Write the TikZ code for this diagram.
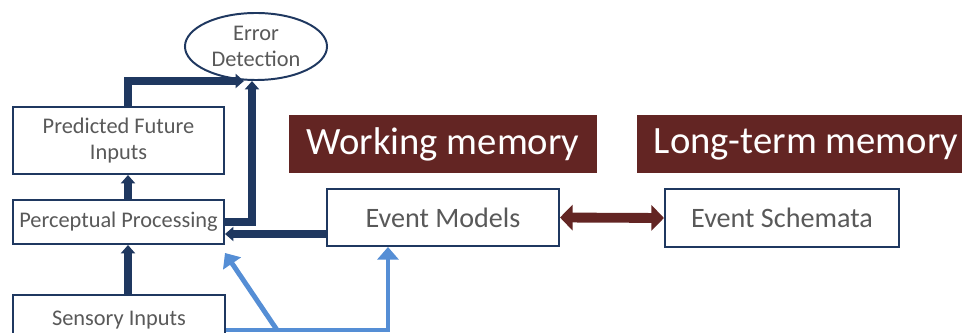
\documentclass[tikz,border=0pt]{standalone}
\usepackage{fontspec}
\setmainfont{Carlito}
\usetikzlibrary{arrows.meta}
\usetikzlibrary{shapes}

\definecolor{sotetkek}{RGB}{31,56,96}
\definecolor{bordo}{RGB}{99,37,35}
\definecolor{vilagoskek}{RGB}{85,142,213}
\definecolor{szurke}{RGB}{89,89,89}

\begin{document}
\begin{tikzpicture}[x=0.025cm,y=-0.025cm,
doboz/.style={rectangle,draw=sotetkek,line width=1.4pt,fill=white,text=szurke,
  font=\fontsize{15.9}{19}\selectfont,align=center,inner sep=0pt},
nagydoboz/.style={doboz,font=\fontsize{20}{24}\selectfont},
cimke/.style={rectangle,fill=bordo,text=white,font=\fontsize{27.5}{30}\selectfont,inner sep=0pt}]

\useasboundingbox (0,0) rectangle (962,333);
\clip (0,0) rectangle (962,333);

\coordinate (spine) at (128,0);
\coordinate (split) at (277,330);

\node[doboz,ellipse,minimum width=3.55cm,minimum height=1.675cm](error) at (256,46.5){Error\\Detection};
\node[doboz,minimum width=5.275cm,minimum height=1.675cm](predicted) at (118.5,140.5){Predicted Future\\Inputs};
\node[doboz,minimum width=5.275cm,minimum height=1.1cm](perceptual) at (118.5,222){Perceptual Processing};
\node[doboz,minimum width=5.3cm,minimum height=1.25cm](sensory) at (119,320){Sensory Inputs};

\node[cimke,minimum width=7.7cm,minimum height=1.45cm](wm-label) at (443,144){Working memory};
\node[cimke,minimum width=8.425cm,minimum height=1.45cm](ltm-label) at (806,144){Long-term memory};

\node[nagydoboz,minimum width=5.8cm,minimum height=1.425cm](event-models) at (443,217.5){Event Models};
\node[nagydoboz,minimum width=5.85cm,minimum height=1.45cm](event-schemata) at (782,218){Event Schemata};

\begin{scope}[->, >={Triangle[length=6pt,width=10pt]}, line width=5pt, draw=sotetkek]
\draw (sensory.north -| spine)--(perceptual.south -| spine);
\draw (perceptual.north -| spine)--(predicted.south -| spine);
\draw (predicted.north -| spine)|-([xshift=-0.3cm]error.south);
\draw (perceptual.east)-|([xshift=-0.1cm]error.south);
\draw ([yshift=-0.3cm]perceptual.east -| event-models.west)--([yshift=-0.3cm]perceptual.east);
\end{scope}

\begin{scope}[->, >={Triangle[length=9pt,width=15pt]}, line width=3.5pt, draw=vilagoskek]
\draw (sensory.east |- split)-|([xshift=-1.375cm]event-models.south);
\draw (split)--([yshift=-0.2cm]perceptual.south east);
\end{scope}

\draw[<->, >={Triangle[length=9pt,width=18pt]}, line width=7pt, draw=bordo] (event-models.east)--(event-schemata.west);

\end{tikzpicture}
\end{document}
